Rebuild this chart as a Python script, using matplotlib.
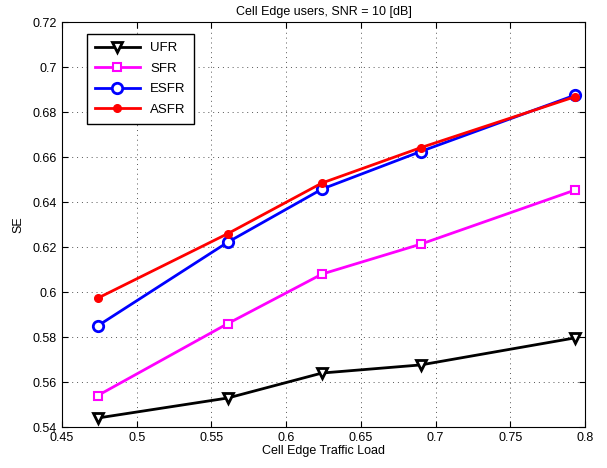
import numpy as np
import matplotlib
matplotlib.use('Agg')
import matplotlib.pyplot as plt

plt.rcParams['font.family'] = ['Liberation Sans', 'DejaVu Sans']

load = [0.474, 0.561, 0.624, 0.690, 0.793]
ufr = [0.5440, 0.5529, 0.5640, 0.5676, 0.5796]
sfr = [0.5540, 0.5860, 0.6080, 0.6213, 0.6453]
esfr = [0.5850, 0.6222, 0.6458, 0.6625, 0.6875]
asfr = [0.5973, 0.6260, 0.6485, 0.6642, 0.6868]

fig = plt.figure(figsize=(6.07, 4.68), dpi=100)
ax = fig.add_axes([0.102, 0.0876, 0.862, 0.865])

ax.plot(load, ufr, '-v', color='black', lw=2, ms=7.5, mfc='white', mew=2, label='UFR')
ax.plot(load, sfr, '-s', color='magenta', lw=2, ms=5.5, mfc='white', mew=1.5, label='SFR')
ax.plot(load, esfr, '-o', color='blue', lw=2, ms=7.5, mfc='white', mew=2, label='ESFR')
ax.plot(load, asfr, '-o', color='red', lw=2, ms=5.5, mfc='red', label='ASFR')

ax.set_xlim(0.45, 0.8)
ax.set_ylim(0.54, 0.72)
ax.set_xticks(np.arange(0.45, 0.801, 0.05))
ax.set_yticks(np.arange(0.54, 0.7201, 0.02))
ax.set_xticklabels(['0.45', '0.5', '0.55', '0.6', '0.65', '0.7', '0.75', '0.8'])
ax.set_yticklabels(['0.54', '0.56', '0.58', '0.6', '0.62', '0.64', '0.66', '0.68', '0.7', '0.72'])
ax.tick_params(direction='in', top=True, right=True, labelsize=9, length=4)
ax.grid(True, linestyle=(0, (1, 4)), color='#555555', linewidth=0.7)

ax.set_xlabel('Cell Edge Traffic Load', fontsize=9, labelpad=1)
ax.set_ylabel('SE', fontsize=9, labelpad=6)
ax.set_title('Cell Edge users, SNR = 10 [dB]', fontsize=9, pad=5)

leg = ax.legend(loc='upper left', bbox_to_anchor=(0.048, 0.97), borderaxespad=0,
                fontsize=9.5, fancybox=False, framealpha=1, edgecolor='black',
                handlelength=3.4, labelspacing=0.62, borderpad=0.6)
leg.get_frame().set_linewidth(1)

fig.savefig('out.png', dpi=100)
